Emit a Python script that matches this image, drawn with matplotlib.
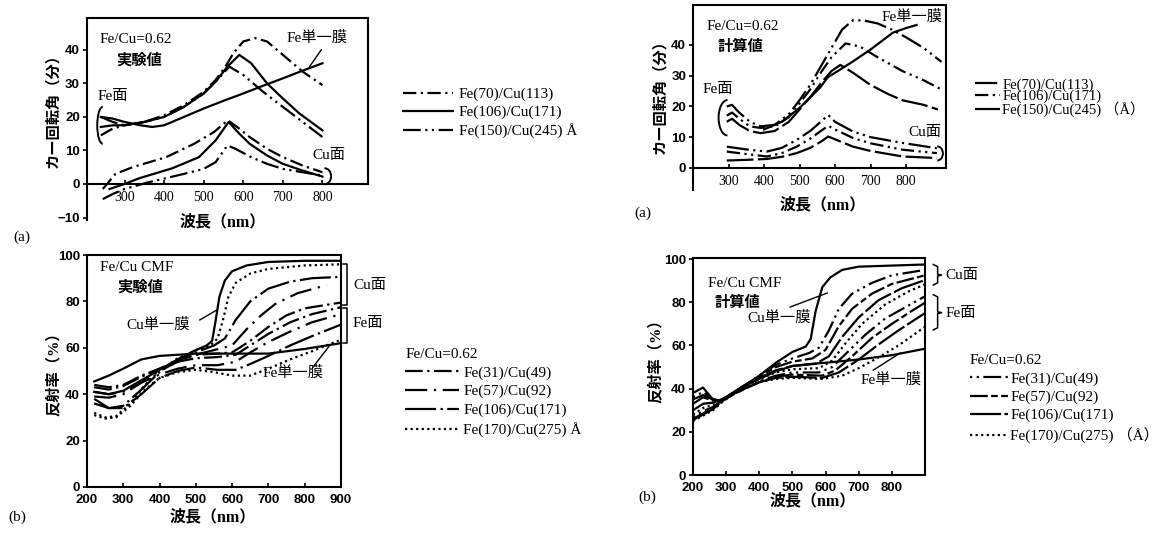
import matplotlib
matplotlib.use("Agg")
import matplotlib.pyplot as plt
from matplotlib.patches import Arc

TXT = ['Liberation Serif', 'Noto Sans CJK JP']
TICK = ['Liberation Sans', 'DejaVu Sans']
plt.rcParams['font.family'] = TXT

# -------------------------------
# (a) Kerr rotation, experiment
# -------------------------------
a1_fe70_wl = [240, 270, 300, 350, 400, 450, 500, 530, 555, 575, 600, 630, 660, 700, 725, 750, 800]
a1_fe70 = [14.5, 16.5, 17.5, 18.5, 20.5, 23.5, 27.5, 31, 35, 39, 42.5, 43.5, 42.5, 38.5, 36, 33.5, 29.5]
a1_fe106_wl = [240, 270, 300, 350, 400, 450, 500, 530, 560, 590, 620, 660, 700, 742, 800]
a1_fe106 = [17, 17.5, 17.5, 18.5, 20, 23, 27, 30.5, 35, 38.5, 36, 30, 25.5, 21, 16]
a1_fe150_wl = [240, 270, 300, 350, 400, 450, 500, 530, 565, 600, 650, 700, 750, 800]
a1_fe150 = [20, 18.5, 17.5, 18.5, 20, 23, 27, 30.5, 35, 32.5, 27.5, 23, 18.5, 14]
a1_fe_wl = [240, 270, 300, 340, 370, 400, 450, 500, 550, 600, 650, 700, 750, 800]
a1_fe = [20, 19.5, 18.5, 17.5, 17, 17.5, 20, 22.5, 24.8, 27, 29.3, 31.5, 33.8, 36]
a1_cu70_wl = [245, 277, 320, 405, 476, 526, 561, 590, 616, 660, 700, 750, 800]
a1_cu70 = [-1.5, 3, 5, 8, 12, 15.5, 19, 16.5, 14, 10.5, 8, 5.5, 3.5]
a1_cu106_wl = [262, 300, 337, 421, 488, 530, 563, 590, 616, 660, 700, 750, 800]
a1_cu106 = [-1.5, 0, 1.7, 4.7, 8, 13, 18.5, 15, 12, 8.5, 6, 4, 2.2]
a1_cu150_wl = [245, 270, 300, 360, 450, 500, 530, 545, 560, 580, 620, 660, 700, 750, 800]
a1_cu150 = [-4.5, -3, -1.5, 0.5, 3, 4.5, 6.5, 9, 11.5, 10.5, 8, 6, 4.5, 3.5, 2.5]
a1_labels = ["Fe(70)/Cu(113)", "Fe(106)/Cu(171)", "Fe(150)/Cu(245) Å"]

# -------------------------------
# (a) Kerr rotation, calculation
# -------------------------------
a2_fe70_wl = [295, 310, 330, 360, 390, 430, 470, 500, 530, 560, 590, 620, 650, 680, 720, 760, 800, 850, 900]
a2_fe70 = [20, 20.5, 18, 15, 13.5, 14, 17.5, 22, 27, 33, 39, 45, 48, 48, 47, 45, 42.5, 39, 34.5]
a2_fe106_wl = [295, 310, 330, 360, 390, 430, 470, 500, 530, 560, 590, 630, 670, 720, 790, 850, 900]
a2_fe106 = [17, 18, 16, 13.5, 13, 13.5, 16.5, 21, 25.5, 31, 36, 40.5, 39.5, 36, 31.5, 28.5, 25.5]
a2_fe150_wl = [295, 310, 330, 360, 390, 430, 470, 500, 530, 560, 590, 615, 650, 700, 750, 790, 850, 890]
a2_fe150 = [15, 16, 14, 12, 11.3, 12, 15, 19, 23, 27.5, 31.5, 33.5, 31, 27, 24, 22, 20.5, 19]
a2_fe_wl = [400, 450, 500, 557, 580, 605, 650, 700, 763, 800, 830]
a2_fe = [12.5, 15, 19.5, 26, 29.5, 31.3, 34.6, 38.5, 44, 45.5, 46.5]
a2_cu_wl = [295, 350, 408, 450, 492, 530, 560, 581, 600, 651, 700, 791, 887]
a2_cu70 = [6.9, 6, 5.3, 6.5, 9.1, 12, 15, 17.2, 15, 11.8, 10, 8.1, 6.4]
a2_cu106 = [5.3, 4.5, 3.7, 4.8, 6.9, 9.5, 12, 13.7, 12.5, 9.7, 8, 5.9, 4.8]
a2_cu150 = [2.4, 2.6, 2.9, 3.6, 4.8, 6.5, 8.5, 10.2, 9.3, 6.9, 5.5, 3.7, 3.2]
a2_labels = ["Fe(70)/Cu(113)", "Fe(106)/Cu(171)", "Fe(150)/Cu(245) （Å）"]

# -------------------------------
# (b) Reflectance, experiment
# -------------------------------
b1_cu_wl = [220, 260, 300, 350, 400, 450, 500, 530, 545, 555, 565, 580, 600, 640, 700, 800, 900]
b1_cu = [41, 40, 41.5, 46, 50.5, 55, 59, 61, 63, 72, 82, 89, 93, 95.5, 97, 97.5, 97.5]
b1_fe_wl = [220, 260, 300, 350, 400, 500, 600, 700, 800, 900]
b1_fe = [45.5, 48, 51, 55, 56.5, 57.5, 57.5, 57.5, 59.5, 62]
b1_c170_wl = [220, 250, 280, 320, 360, 400, 450, 500, 540, 560, 575, 590, 610, 650, 700, 800, 900]
b1_c170 = [32, 30, 30.5, 36, 44, 50, 55.5, 59, 61, 64, 72, 82, 88, 92, 94, 95.5, 96]
b1_c106_wl = [220, 260, 300, 350, 400, 450, 500, 550, 580, 610, 650, 700, 760, 820, 890]
b1_c106 = [36, 34, 35, 42, 49.5, 55, 58, 61, 64, 72, 80, 85.5, 88.5, 90, 90.5]
b1_c57_wl = [220, 260, 300, 350, 400, 450, 500, 550, 600, 640, 680, 720, 780, 860]
b1_c57 = [39, 38.5, 40, 45, 50, 54, 57, 59, 61, 68, 74, 79, 83.5, 87]
b1_c31_wl = [220, 260, 300, 350, 400, 450, 500, 560, 600, 650, 700, 750, 800, 900]
b1_c31 = [43, 42, 43.5, 47.5, 51, 54.5, 57, 57.5, 58, 63, 69, 74, 77, 79.5]
b1_f_wl = [220, 260, 300, 350, 400, 450, 500, 560, 610, 650, 700, 760, 820, 900]
b1_f31 = [44, 43, 44, 48, 51, 54, 55.5, 56, 57, 61, 66, 71, 74.5, 77.5]
b1_f57 = [41, 40, 41, 45, 48.5, 51, 52.5, 52.5, 54, 58, 62.5, 67, 71, 74.5]
b1_f106 = [38, 34, 34, 40, 47, 50, 51.5, 50.5, 50.5, 53, 56.5, 61, 65, 70]
b1_f170_wl = [220, 250, 280, 320, 360, 400, 450, 500, 550, 600, 650, 700, 760, 820, 900]
b1_f170 = [31, 29.5, 30, 35, 42, 47, 49.5, 50.5, 49.5, 48, 48, 51, 55, 58.5, 63.5]
b_labels = ["Fe(31)/Cu(49)", "Fe(57)/Cu(92)", "Fe(106)/Cu(171)"]

# -------------------------------
# (b) Reflectance, calculation
# -------------------------------
b2_cu_wl = [200, 230, 260, 280, 300, 350, 400, 450, 500, 540, 555, 570, 590, 614, 650, 700, 800, 900]
b2_cu = [38, 40.5, 35, 34.5, 36, 41, 46, 52, 57, 59.5, 63, 76, 87, 91.5, 95, 96.5, 97, 97.5]
b2_fe_wl = [200, 230, 260, 280, 300, 350, 400, 450, 500, 560, 600, 700, 800, 900]
b2_fe = [35, 37, 35, 34.5, 36, 41, 44.5, 48, 50.5, 51.5, 52, 53.5, 55.5, 58.5]
b2_c31_wl = [200, 230, 260, 280, 300, 350, 400, 450, 500, 550, 580, 610, 640, 680, 740, 800, 900]
b2_c31 = [36, 38.5, 35, 34.5, 36, 41, 46, 51, 54, 56.5, 59, 67, 77, 84, 89, 92.5, 95]
b2_c57_wl = [200, 230, 260, 280, 300, 350, 400, 450, 500, 560, 600, 640, 680, 740, 800, 900]
b2_c57 = [33, 36, 34.5, 34.5, 36, 41, 45.5, 50, 52.5, 54, 58, 69, 77, 84, 88.5, 92.5]
b2_c106_wl = [200, 230, 260, 280, 300, 350, 400, 450, 500, 570, 610, 650, 700, 760, 830, 900]
b2_c106 = [30, 33, 33.5, 34.5, 36, 41, 45, 48.5, 50.5, 51.5, 55, 64, 73, 81, 86.5, 90.3]
b2_c170_wl = [200, 230, 260, 280, 300, 350, 400, 450, 500, 580, 620, 660, 710, 780, 850, 900]
b2_c170 = [28, 31, 32.5, 34, 36, 40.5, 44.5, 47.5, 49, 49.5, 53, 61, 70, 79, 85, 88.3]
b2_f31_wl = [200, 230, 260, 290, 330, 400, 450, 500, 580, 620, 660, 720, 780, 850, 900]
b2_f31 = [27, 29.5, 31.5, 35, 38, 43.5, 46, 47.5, 47.5, 50, 56, 65, 72.5, 78.5, 82.8]
b2_f57_wl = [200, 230, 260, 290, 330, 400, 450, 500, 590, 630, 680, 740, 800, 860, 900]
b2_f57 = [26, 28.5, 31, 34.5, 38, 43, 45.5, 46.5, 46, 48.5, 55, 63.5, 70, 76, 79.8]
b2_f106_wl = [200, 230, 260, 290, 330, 400, 450, 500, 590, 640, 700, 760, 820, 900]
b2_f106 = [25.5, 28, 30.5, 34.5, 38.5, 43, 45, 45.5, 45, 47.5, 53.5, 60.5, 67, 75]
b2_f170_wl = [200, 230, 260, 290, 330, 400, 450, 500, 590, 650, 700, 760, 820, 900]
b2_f170 = [25, 27.5, 30, 34, 38.5, 43, 44.5, 45, 44.5, 46, 49.5, 54.5, 60, 68.7]

LW = 1.6


def frame(ax, xlim, ylim, xticks, yticks):
    ax.set_xlim(*xlim)
    ax.set_ylim(*ylim)
    ax.set_xticks(xticks)
    ax.set_yticks(yticks)
    for s in ax.spines.values():
        s.set_linewidth(1.5)
    ax.tick_params(axis='x', direction='in', length=3, width=1.2, pad=5)
    ax.tick_params(axis='y', direction='out', length=3, width=1.2, pad=2)
    for lab in ax.get_xticklabels() + ax.get_yticklabels():
        lab.set_fontfamily(TICK)
        lab.set_fontweight('bold')
        lab.set_fontsize(9.5)


def note(ax, x, y, s, size=11, weight='normal'):
    ax.text(x, y, s, fontfamily=TXT, fontsize=size, ha='left', va='center', fontweight=weight)


def leader(ax, x0, y0, x1, y1):
    ax.plot([x0, x1], [y0, y1], color='k', lw=1.0, clip_on=False)


def axlabels(ax, xl, yl, xpos, ypos):
    ax.text(*xpos, xl, transform=ax.transAxes, fontfamily=TXT, fontsize=11.5,
            fontweight='bold', ha='center', va='center')
    ax.text(*ypos, yl, transform=ax.transAxes, fontfamily=TXT, fontsize=11,
            fontweight='bold', rotation=90, ha='center', va='center')


fig = plt.figure(figsize=(11.64, 5.39), dpi=100)

# -------------------------------
# Panel 1
# -------------------------------
ax1 = fig.add_axes([0.0747, 0.5918, 0.2414, 0.3748])
s_a = (0, (6, 2, 1, 2))
s_c = (0, (8, 2, 1, 2, 1, 2))
h1 = ax1.plot(a1_fe70_wl, a1_fe70, color='k', lw=LW, ls=s_a)[0]
h2 = ax1.plot(a1_fe106_wl, a1_fe106, color='k', lw=LW)[0]
h3 = ax1.plot(a1_fe150_wl, a1_fe150, color='k', lw=LW, ls=s_c)[0]
ax1.plot(a1_fe_wl, a1_fe, color='k', lw=LW)
ax1.plot(a1_cu70_wl, a1_cu70, color='k', lw=LW, ls=s_a)
ax1.plot(a1_cu106_wl, a1_cu106, color='k', lw=LW)
ax1.plot(a1_cu150_wl, a1_cu150, color='k', lw=LW, ls=s_c)
frame(ax1, (205, 915), (-10.75, 49.5), [300, 400, 500, 600, 700, 800], [-10, 0, 10, 20, 30, 40])
ax1.spines['bottom'].set_position(('data', 0))
ax1.spines['right'].set_bounds(0, 49.5)
ax1.add_patch(Arc((245, 17.5), 28, 11, theta1=90, theta2=270, lw=1.4, color='k'))
ax1.add_patch(Arc((805, 2.3), 34, 4.8, theta1=-90, theta2=90, lw=1.4, color='k'))
note(ax1, 237, 43, "Fe/Cu=0.62")
note(ax1, 280, 37, "実験値", weight='bold')
note(ax1, 232, 26, "Fe面")
note(ax1, 709, 43.5, "Fe単一膜")
leader(ax1, 797, 40, 767, 34.9)
note(ax1, 775, 8.6, "Cu面")
axlabels(ax1, "波長（nm）", "カー回転角（分）", (0.484, -0.01), (-0.121, 0.559))
fig.legend(handles=[h1, h2, h3], labels=a1_labels, loc='upper left', bbox_to_anchor=(0.346, 0.838),
           frameon=False, prop={'family': TXT, 'size': 11}, handlelength=3.3, handletextpad=0.35,
           labelspacing=0.27, borderpad=0, borderaxespad=0)

# -------------------------------
# Panel 2
# -------------------------------
ax2 = fig.add_axes([0.5954, 0.6475, 0.2174, 0.3432])
t_a = (0, (10, 2, 1, 2, 1, 2))
t_b = (0, (6, 2, 1, 2, 1, 2))
t_c = (0, (12, 2))
g1 = ax2.plot(a2_fe70_wl, a2_fe70, color='k', lw=LW, ls=t_a)[0]
g2 = ax2.plot(a2_fe106_wl, a2_fe106, color='k', lw=LW, ls=t_b)[0]
g3 = ax2.plot(a2_fe150_wl, a2_fe150, color='k', lw=LW, ls=t_c)[0]
ax2.plot(a2_fe_wl, a2_fe, color='k', lw=LW)
ax2.plot(a2_cu_wl, a2_cu70, color='k', lw=LW, ls=t_a)
ax2.plot(a2_cu_wl, a2_cu106, color='k', lw=LW, ls=t_b)
ax2.plot(a2_cu_wl, a2_cu150, color='k', lw=LW, ls=t_c)
frame(ax2, (200, 913), (-7.2, 53), [300, 400, 500, 600, 700, 800], [0, 10, 20, 30, 40])
ax2.spines['bottom'].set_position(('data', 0))
ax2.spines['right'].set_bounds(0, 53)
ax2.add_patch(Arc((297, 16.3), 50, 11.5, theta1=90, theta2=270, lw=1.4, color='k'))
ax2.add_patch(Arc((888, 4.7), 32, 4.6, theta1=-90, theta2=90, lw=1.4, color='k'))
note(ax2, 239, 45.9, "Fe/Cu=0.62")
note(ax2, 268, 39.3, "計算値", weight='bold')
note(ax2, 228, 25.4, "Fe面")
note(ax2, 732, 49.1, "Fe単一膜")
note(ax2, 806, 11.4, "Cu面")
axlabels(ax2, "波長（nm）", "カー回転角（分）", (0.514, -0.081), (-0.130, 0.524))
fig.legend(handles=[g1, g2, g3], labels=a2_labels, loc='upper left', bbox_to_anchor=(0.838, 0.855),
           frameon=False, prop={'family': TXT, 'size': 10.5}, handlelength=1.7, handletextpad=0.15,
           labelspacing=-0.12, borderpad=0, borderaxespad=0)

# -------------------------------
# Panel 3
# -------------------------------
ax3 = fig.add_axes([0.0747, 0.0965, 0.2182, 0.4304])
u31 = (0, (8, 2, 1, 2))
u57 = (0, (10, 3, 1, 3))
u106 = (0, (14, 2, 1, 2))
u170 = (0, (1, 1.5))
ax3.plot(b1_cu_wl, b1_cu, color='k', lw=LW)
ax3.plot(b1_fe_wl, b1_fe, color='k', lw=LW)
k1 = ax3.plot(b1_c31_wl, b1_c31, color='k', lw=LW, ls=u31)[0]
k2 = ax3.plot(b1_c57_wl, b1_c57, color='k', lw=LW, ls=u57)[0]
k3 = ax3.plot(b1_c106_wl, b1_c106, color='k', lw=LW, ls=u106)[0]
k4 = ax3.plot(b1_c170_wl, b1_c170, color='k', lw=LW, ls=u170)[0]
ax3.plot(b1_f_wl, b1_f31, color='k', lw=LW, ls=u31)
ax3.plot(b1_f_wl, b1_f57, color='k', lw=LW, ls=u57)
ax3.plot(b1_f_wl, b1_f106, color='k', lw=LW, ls=u106)
ax3.plot(b1_f170_wl, b1_f170, color='k', lw=LW, ls=u170)
frame(ax3, (200, 900), (0, 100), [200, 300, 400, 500, 600, 700, 800, 900], [0, 20, 40, 60, 80, 100])
note(ax3, 236, 94.4, "Fe/Cu CMF")
note(ax3, 285, 86.2, "実験値", weight='bold')
note(ax3, 310, 69.8, "Cu単一膜")
leader(ax3, 511, 72, 558, 76.3)
note(ax3, 685, 49.1, "Fe単一膜")
leader(ax3, 823, 51.7, 870, 61.2)
ax3.plot([905, 917, 917, 905], [96, 96, 78.5, 78.5], color='k', lw=1.1, clip_on=False)
ax3.plot([905, 917, 917, 905], [77, 77, 62, 62], color='k', lw=1.1, clip_on=False)
note(ax3, 933, 87, "Cu面")
note(ax3, 933, 70.5, "Fe面")
axlabels(ax3, "波長（nm）", "反射率（%）", (0.496, -0.129), (-0.134, 0.504))
fig.legend(handles=[k1, k2, k3, k4], labels=b_labels + ["Fe(170)/Cu(275) Å"], loc='upper left',
           bbox_to_anchor=(0.348, 0.355), frameon=False, prop={'family': TXT, 'size': 11},
           title="Fe/Cu=0.62", title_fontproperties={'family': TXT, 'size': 11}, alignment='left',
           handlelength=3.5, handletextpad=0.3, labelspacing=0.33, borderpad=0, borderaxespad=0)

# -------------------------------
# Panel 4
# -------------------------------
ax4 = fig.add_axes([0.5954, 0.1187, 0.1993, 0.4026])
v31 = (0, (1, 2, 1, 2, 8, 2))
v57 = (0, (8, 1.5, 3, 1.5))
v106 = (0, (14, 1.5))
v170 = (0, (1, 1.5))
ax4.plot(b2_cu_wl, b2_cu, color='k', lw=LW)
ax4.plot(b2_fe_wl, b2_fe, color='k', lw=LW)
m1 = ax4.plot(b2_c31_wl, b2_c31, color='k', lw=LW, ls=v31)[0]
m2 = ax4.plot(b2_c57_wl, b2_c57, color='k', lw=LW, ls=v57)[0]
m3 = ax4.plot(b2_c106_wl, b2_c106, color='k', lw=LW, ls=v106)[0]
m4 = ax4.plot(b2_c170_wl, b2_c170, color='k', lw=LW, ls=v170)[0]
ax4.plot(b2_f31_wl, b2_f31, color='k', lw=LW, ls=v31)
ax4.plot(b2_f57_wl, b2_f57, color='k', lw=LW, ls=v57)
ax4.plot(b2_f106_wl, b2_f106, color='k', lw=LW, ls=v106)
ax4.plot(b2_f170_wl, b2_f170, color='k', lw=LW, ls=v170)
frame(ax4, (200, 900), (0, 100.5), [200, 300, 400, 500, 600, 700, 800], [0, 20, 40, 60, 80, 100])
note(ax4, 245, 88.9, "Fe/Cu CMF")
note(ax4, 266, 79.7, "計算値", weight='bold')
note(ax4, 363, 72.7, "Cu単一膜")
leader(ax4, 493, 77.8, 605, 84.3)
note(ax4, 705, 44, "Fe単一膜")
leader(ax4, 744, 48.6, 825, 56.5)
ax4.plot([925, 938, 938, 950, 938, 938, 925], [97.5, 96.5, 93, 92.6, 92.2, 89, 88], color='k', lw=1.1, clip_on=False)
ax4.plot([925, 938, 938, 950, 938, 938, 925], [83.5, 82.5, 75.6, 75.2, 74.8, 68.2, 67.2], color='k', lw=1.1, clip_on=False)
note(ax4, 961, 92.6, "Cu面")
note(ax4, 961, 75, "Fe面")
axlabels(ax4, "波長（nm）", "反射率（%）", (0.517, -0.12), (-0.164, 0.544))
fig.legend(handles=[m1, m2, m3, m4], labels=b_labels + ["Fe(170)/Cu(275) （Å）"], loc='upper left',
           bbox_to_anchor=(0.833, 0.343), frameon=False, prop={'family': TXT, 'size': 11},
           title="Fe/Cu=0.62", title_fontproperties={'family': TXT, 'size': 11}, alignment='left',
           handlelength=2.5, handletextpad=0.15, labelspacing=0.3, borderpad=0, borderaxespad=0)

# panel tags
fig.text(0.019, 0.560, "(a)", fontfamily=TXT, fontsize=11, ha='center', va='center')
fig.text(0.552, 0.605, "(a)", fontfamily=TXT, fontsize=11, ha='center', va='center')
fig.text(0.015, 0.041, "(b)", fontfamily=TXT, fontsize=11, ha='center', va='center')
fig.text(0.556, 0.078, "(b)", fontfamily=TXT, fontsize=11, ha='center', va='center')

fig.savefig("out.png", dpi=100)
